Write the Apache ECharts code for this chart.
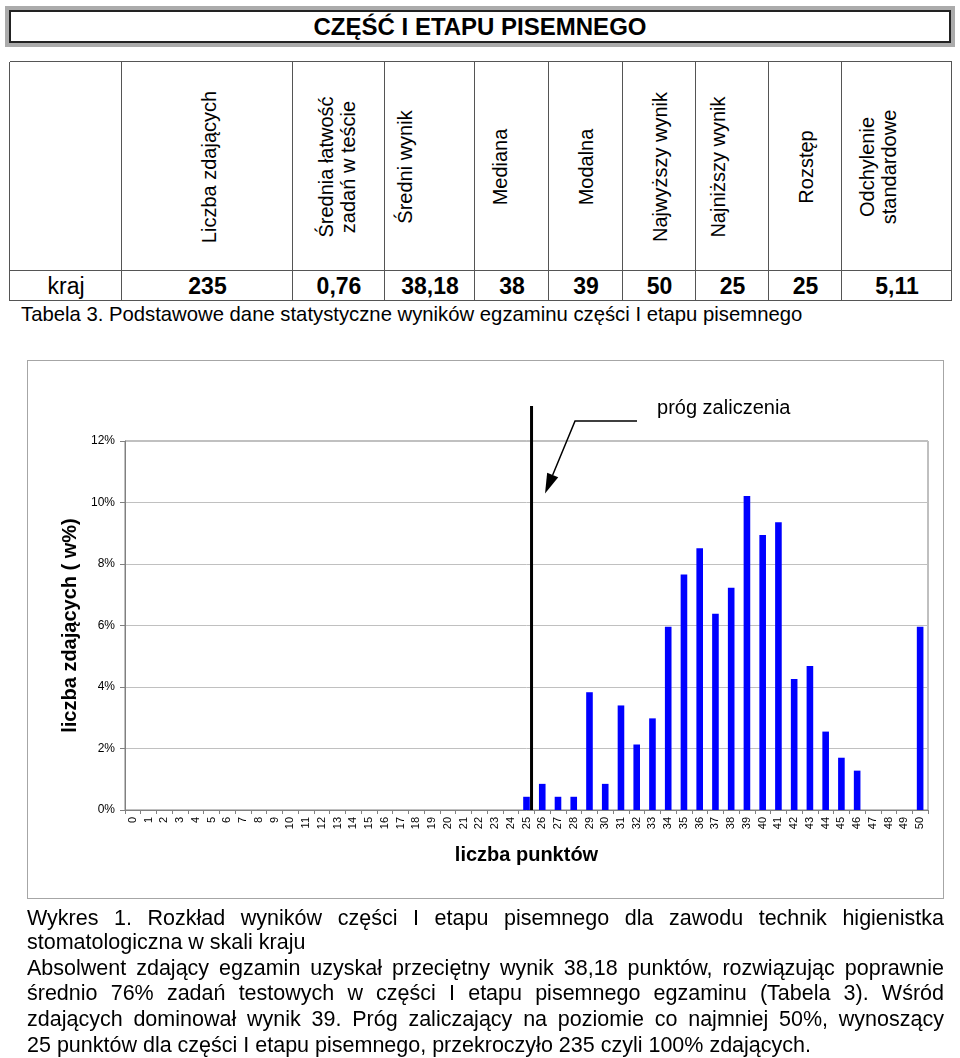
<!DOCTYPE html>
<html>
<head>
<meta charset="utf-8">
<script src="https://cdn.jsdelivr.net/npm/echarts@6/dist/echarts.min.js"></script>
<style>
  html, body { margin:0; padding:0; background:#fff; }
  body { width:960px; height:1058px; position:relative; overflow:hidden; font-family:'Liberation Sans', Arial, sans-serif; color:#000; }
  .abs { position:absolute; }
  .hl { position:absolute; height:0; border-top:1.5px solid #555; }
  .vl { position:absolute; width:0; border-left:1.5px solid #555; }
  .hdr { position:absolute; font-size:20px; line-height:22px; white-space:pre; text-align:center; transform:translate(-50%,-50%) rotate(-90deg); }
  .val { position:absolute; font-size:23px; font-weight:bold; text-align:center; height:30px; line-height:31px; }
  .jl { position:absolute; left:27px; width:917px; font-size:21.5px; line-height:24px; white-space:nowrap; }
  .just { white-space:normal; text-align:justify; text-align-last:justify; }
  #chart { position:absolute; left:0; top:0; width:960px; height:1058px; }
</style>
</head>
<body>
<div class="abs" style="left:5px;top:6px;width:950px;height:41px;box-sizing:border-box;border:4px solid #ababab;">
  <div style="width:100%;height:100%;box-sizing:border-box;border:2px solid #222;text-align:center;font-weight:bold;font-size:24px;line-height:30px;">CZĘŚĆ I ETAPU PISEMNEGO</div>
</div>
<div id="table"></div>
<div class="abs" id="tcap" style="left:21px;top:303px;font-size:20.3px;line-height:23px;white-space:nowrap;"></div>
<div class="abs" style="left:27px;top:360px;width:917px;height:539px;box-sizing:border-box;border:1.5px solid #a6a6a6;"></div>
<div id="chart"></div>
<div id="text"></div>
<script>
// ---------- data ----------
const tableHeaders = ["Liczba zdających", "Średnia łatwość\nzadań w teście", "Średni wynik", "Mediana", "Modalna", "Najwyższy wynik", "Najniższy wynik", "Rozstęp", "Odchylenie\nstandardowe"];
const tableRowLabel = "kraj";
const tableValues = ["235", "0,76", "38,18", "38", "39", "50", "25", "25", "5,11"];
const tableCaption = "Tabela 3. Podstawowe dane statystyczne wyników egzaminu części I etapu pisemnego";

const scoreCategories = ["0","1","2","3","4","5","6","7","8","9","10","11","12","13","14","15","16","17","18","19","20","21","22","23","24","25","26","27","28","29","30","31","32","33","34","35","36","37","38","39","40","41","42","43","44","45","46","47","48","49","50"];
const sharePercent = [0,0,0,0,0,0,0,0,0,0,0,0,0,0,0,0,0,0,0,0,0,0,0,0,0,
  0.43, 0.85, 0.43, 0.43, 3.83, 0.85, 3.40, 2.13, 2.98, 5.96, 7.66, 8.51, 6.38, 7.23, 10.21, 8.94, 9.36, 4.26, 4.68, 2.55, 1.70, 1.28, 0, 0, 0, 5.96];
const yTickLabels = ["0%", "2%", "4%", "6%", "8%", "10%", "12%"];
const thresholdCategory = "25";
const thresholdLabel = "próg zaliczenia";
const xAxisTitle = "liczba punktów";
const yAxisTitle = "liczba zdających ( w%)";

const captionLines = [
  " Wykres 1. Rozkład wyników części I etapu pisemnego dla zawodu technik higienistka",
  "stomatologiczna w skali kraju",
  "Absolwent zdający egzamin uzyskał przeciętny wynik 38,18 punktów, rozwiązując poprawnie",
  "średnio 76% zadań testowych w części I etapu pisemnego egzaminu (Tabela 3). Wśród",
  "zdających dominował wynik 39. Próg zaliczający na poziomie co najmniej 50%, wynoszący",
  "25 punktów dla części I etapu pisemnego, przekroczyło 235 czyli 100% zdających."
];

// ---------- layout ----------
const colEdges = [10, 122, 293, 385, 475, 549, 623, 696, 769, 842, 952];
const headerCx = [209, 337, 405, 500, 586, 660, 718, 806, 878];
const tTop = 62, tMid = 271, tBot = 301;
const lineTops = [906, 930, 956, 981, 1007, 1033];
const lineJustified = [true, false, true, true, true, false];

// ---------- table ----------
const tbl = document.getElementById('table');
function add(cls, css, txt) {
  const d = document.createElement('div');
  d.className = cls; d.style.cssText = css;
  if (txt !== undefined) d.textContent = txt;
  tbl.appendChild(d); return d;
}
[tTop, tMid, tBot].forEach(y => add('hl', `left:${colEdges[0]}px;top:${y-0.75}px;width:${colEdges[colEdges.length-1]-colEdges[0]}px;`));
colEdges.forEach(x => add('vl', `left:${x-0.75}px;top:${tTop}px;height:${tBot-tTop}px;`));
tableHeaders.forEach((h, i) => add('hdr', `left:${headerCx[i]}px;top:${(tTop+tMid)/2}px;`, h));
add('val', `left:${colEdges[0]}px;width:${colEdges[1]-colEdges[0]}px;top:${tMid}px;font-weight:normal;`, tableRowLabel);
tableValues.forEach((v, i) => add('val', `left:${colEdges[i+1]}px;width:${colEdges[i+2]-colEdges[i+1]}px;top:${tMid}px;`, v));
document.getElementById('tcap').textContent = tableCaption;

// ---------- bottom text ----------
const txt = document.getElementById('text');
captionLines.forEach((l, i) => {
  const d = document.createElement('div');
  d.className = 'jl' + (lineJustified[i] ? ' just' : '');
  d.style.top = lineTops[i] + 'px';
  d.textContent = l;
  txt.appendChild(d);
});

// ---------- chart ----------
const chart = echarts.init(document.getElementById('chart'), null, { renderer: 'canvas' });
const FONT = 'Liberation Sans, Arial, sans-serif';
chart.setOption({
  animation: false,
  textStyle: { fontFamily: FONT },
  grid: { left: 125, top: 441, width: 803, height: 369, show: true, borderColor: '#808080', borderWidth: 1 },
  xAxis: {
    type: 'category', data: scoreCategories,
    axisLine: { lineStyle: { color: '#808080', width: 1 } },
    axisTick: { show: true, length: 4, interval: 0, alignWithLabel: false, lineStyle: { color: '#808080' } },
    axisLabel: { rotate: 90, interval: 0, fontSize: 11, color: '#000', margin: 7, fontFamily: FONT },
    name: xAxisTitle, nameLocation: 'middle', nameGap: 35,
    nameTextStyle: { fontSize: 20, fontWeight: 'bold', color: '#000', fontFamily: FONT }
  },
  yAxis: {
    type: 'value', min: 0, max: 12, interval: 2,
    axisLine: { show: true, lineStyle: { color: '#808080', width: 1 } },
    axisTick: { show: true, length: 5, lineStyle: { color: '#808080' } },
    axisLabel: { fontSize: 12, color: '#000', margin: 10, fontFamily: FONT,
      formatter: (v) => yTickLabels[Math.round(v / 2)] },
    splitLine: { show: true, lineStyle: { color: '#c0c0c0', width: 1 } },
    name: yAxisTitle, nameLocation: 'middle', nameGap: 44,
    nameTextStyle: { fontSize: 20, fontWeight: 'bold', color: '#000', fontFamily: FONT }
  },
  series: [{
    type: 'bar', data: sharePercent, barWidth: '42%',
    itemStyle: { color: '#0000ff' }
  }]
});

// threshold line + annotation, positioned through the chart's own scales
const xc = chart.convertToPixel({ xAxisIndex: 0 }, thresholdCategory);
const xcNext = chart.convertToPixel({ xAxisIndex: 0 }, String(Number(thresholdCategory) + 1));
const band = xcNext - xc;
const lineX = xc + 0.32 * band;
const yTop = chart.convertToPixel({ yAxisIndex: 0 }, 12);
const yZero = chart.convertToPixel({ yAxisIndex: 0 }, 0);
const y10 = chart.convertToPixel({ yAxisIndex: 0 }, 10);

const tip = [lineX + 13.5, y10 - 9];
const knee = [lineX + 43.5, yTop - 20];
const dx = tip[0] - knee[0], dy = tip[1] - knee[1];
const len = Math.sqrt(dx * dx + dy * dy);
const ux = dx / len, uy = dy / len;
const headLen = 20, headHalf = 6;
const base = [tip[0] - ux * headLen, tip[1] - uy * headLen];
const px = -uy * headHalf, py = ux * headHalf;

chart.setOption({
  graphic: [
    { type: 'line', shape: { x1: lineX, y1: yTop - 35, x2: lineX, y2: yZero }, style: { stroke: '#000', lineWidth: 3 }, z: 100 },
    { type: 'polyline', shape: { points: [[lineX + 105.5, yTop - 20], knee, base] }, style: { stroke: '#000', lineWidth: 1.5, fill: null }, z: 100 },
    { type: 'polygon', shape: { points: [tip, [base[0] + px, base[1] + py], [base[0] - px, base[1] - py]] }, style: { fill: '#000' }, z: 100 },
    { type: 'text', x: lineX + 125.5, y: yTop - 33, style: { text: thresholdLabel, fill: '#000', font: '20px ' + FONT, textVerticalAlign: 'middle', textAlign: 'left' }, z: 100 }
  ]
});
</script>
</body>
</html>
